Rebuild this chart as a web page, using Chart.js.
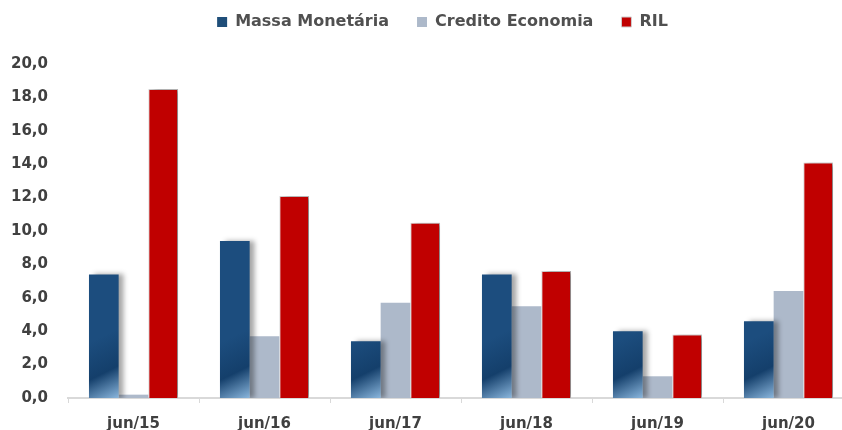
<!DOCTYPE html>
<html>
<head>
<meta charset="utf-8">
<script src="https://cdn.jsdelivr.net/npm/chart.js@4.4.1/dist/chart.umd.min.js"></script>
<style>
  html, body { margin: 0; padding: 0; background: #fff; overflow: hidden; }
  /* the original plot runs a little past the right edge of the picture */
  #wrap { width: 854px; height: 430px; }
</style>
</head>
<body>
<div id="wrap"><canvas id="chart"></canvas></div>
<script>
// data
const categories = ['jun/15', 'jun/16', 'jun/17', 'jun/18', 'jun/19', 'jun/20'];
const massaMonetaria = [7.4, 9.4, 3.4, 7.4, 4.0, 4.6];
const creditoEconomia = [0.2, 3.7, 5.7, 5.5, 1.3, 6.4];
const ril = [18.5, 12.1, 10.5, 7.6, 3.8, 14.1];
const yTicks = [0, 2, 4, 6, 8, 10, 12, 14, 16, 18, 20];

const textColor = '#404040';
const tickFont = { family: 'DejaVu Sans', size: 15, weight: 'bold' };
const legendFont = { family: 'DejaVu Sans', size: 16, weight: 'bold' };
const catPct = 0.68;

// blue bars: dark with a light diagonal foot, like the Excel gradient
function blueFill(context) {
  const chart = context.chart;
  const area = chart.chartArea;
  const xs = chart.scales.x;
  if (!area || !xs || context.dataIndex === undefined) return '#1b4a78';
  const catW = (area.right - area.left) / categories.length;
  const w = catW * catPct / 3;
  const cx = xs.getPixelForValue(context.dataIndex) - w;
  const g = chart.ctx.createLinearGradient(cx - w / 2, area.bottom - 55, cx + w / 2, area.bottom + 5);
  g.addColorStop(0, '#1c4d7e');
  g.addColorStop(0.5, '#143f6b');
  g.addColorStop(1, '#9cc8ee');
  return g;
}

// soft shadow to the right of the blue and red bars
const barShadow = {
  id: 'barShadow',
  beforeDatasetDraw(chart, args) {
    if (args.index === 1) return;
    const c = chart.ctx;
    c.save();
    c.shadowColor = 'rgba(0,0,0,0.35)';
    c.shadowBlur = 5;
    c.shadowOffsetX = 5;
    c.shadowOffsetY = 0;
  },
  afterDatasetDraw(chart, args) {
    if (args.index === 1) return;
    chart.ctx.restore();
  }
};

// move the legend to where it sits in the original
const legendShift = {
  id: 'legendShift',
  afterLayout(chart) {
    const l = chart.legend;
    l.left += 20; l.right += 20;
    l.top -= 24; l.bottom -= 24;
  }
};

const ctx = document.getElementById('chart');
new Chart(ctx, {
  type: 'bar',
  data: {
    labels: categories,
    datasets: [
      { label: 'Massa Monetária', data: massaMonetaria, backgroundColor: blueFill, borderWidth: 0 },
      { label: 'Credito Economia', data: creditoEconomia, backgroundColor: '#adb9ca', borderWidth: 0 },
      { label: 'RIL', data: ril, backgroundColor: '#c00000', borderColor: '#cfcfcf', borderWidth: 1 }
    ]
  },
  options: {
    responsive: true,
    maintainAspectRatio: false,
    animation: false,
    layout: { padding: { left: -9, right: 0, top: 10, bottom: -15 } },
    datasets: { bar: { categoryPercentage: catPct, barPercentage: 1.0 } },
    plugins: {
      legend: {
        position: 'top',
        labels: {
          color: '#505050',
          font: legendFont,
          boxWidth: 10,
          boxHeight: 10,
          padding: 28,
          generateLabels(chart) {
            return chart.data.datasets.map((d, i) => ({
              text: d.label,
              fillStyle: i === 0 ? '#1f4e79' : d.backgroundColor,
              strokeStyle: i === 2 ? '#cfcfcf' : 'transparent',
              lineWidth: i === 2 ? 1 : 0,
              fontColor: '#505050',
              datasetIndex: i
            }));
          }
        }
      },
      tooltip: { enabled: false }
    },
    scales: {
      x: {
        grid: { display: true, offset: true, drawOnChartArea: false, drawTicks: true, tickLength: 5, color: '#d9d9d9' },
        border: { display: true, color: '#d9d9d9', width: 2 },
        ticks: { color: textColor, font: tickFont, padding: 12 }
      },
      y: {
        min: 0,
        max: 20,
        afterBuildTicks(scale) { scale.ticks = yTicks.map(v => ({ value: v })); },
        grid: { display: false, drawTicks: false },
        border: { display: false },
        ticks: {
          color: textColor,
          font: tickFont,
          padding: 20,
          callback: v => v.toFixed(1).replace('.', ',')
        }
      }
    }
  },
  plugins: [barShadow, legendShift]
});
</script>
</body>
</html>
